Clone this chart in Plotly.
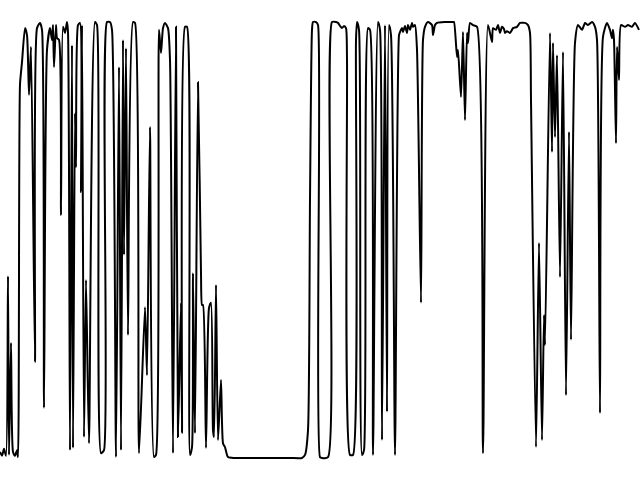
import plotly.graph_objects as go

t = [0, 2, 4, 6, 8, 9, 11, 13, 15, 17, 18,
     20, 22, 25, 27, 29, 31, 35, 37, 40, 42, 44, 47, 50, 52, 53, 54, 56, 57, 59,
     61, 63, 65, 67, 68, 70, 72, 73, 75, 76, 78, 80, 81, 82, 84, 86, 89, 95, 97, 101, 104, 107, 110,
     112, 116, 119, 121, 123, 124, 126, 128, 133, 135, 139,
     145, 147, 150, 154, 156, 159, 161, 163, 165, 168, 170, 173, 176, 178, 181, 182, 185, 187, 190, 192, 193, 195, 198,
     201, 202, 203, 206, 209, 211, 213, 214, 216, 218, 221, 223, 225, 228, 235, 260, 290, 302, 305, 308, 310, 312, 313, 316, 318, 320, 322, 328,
     332, 336, 338, 340, 342, 344, 346, 347, 350, 353, 356, 357, 359, 362, 364, 368, 370, 373, 378, 380, 382, 385, 387, 389, 391, 395, 399,
     400, 402, 403, 405, 407, 408, 410, 412, 413, 415, 417, 421, 423, 425, 428, 432, 433, 435, 437, 445, 453, 454, 457, 458, 461, 463, 465, 467, 468, 470, 473, 477,
     483, 488, 492, 493, 496, 498, 500, 502, 504, 505, 507, 510, 512, 513, 517, 520, 525, 528, 530, 531, 536, 539, 542, 544, 545, 550, 552, 553, 555, 557, 560, 563, 566, 569, 571, 575, 578,
     582, 585, 588, 592, 595, 597, 600, 603, 607, 610, 612, 613, 614, 616, 617, 619, 621, 625, 628, 632, 635, 639]

values = [1.4, 0.5, 2.1, 0.5, 41.7, 0.7, 26.4, 1.4, 0.5, 1.8, 0.2,
          85.6, 90.8, 98.6, 97.0, 83.3, 94.3, 22.0, 98.6, 99.8, 98.2, 11.5, 93.6, 98.6, 95.9, 99.3, 89.7, 99.3, 96.3, 95.9,
          55.7, 98.9, 97.5, 100, 97.7, 1.8, 94.7, 2.3, 79.1, 66.7, 99.3, 99.8, 61.0, 99.3, 4.8, 40.8, 3.4, 100, 99.3, 1.1, 1.8, 100, 100,
          98.2, 0.2, 89.7, 1.8, 95.9, 46.6, 94.0, 28.2, 100, 99.8, 1.1,
          34.6, 19.0, 75.9, 0.2, 0.7, 98.2, 92.9, 98.6, 99.8, 98.6, 91.3, 1.1, 98.9, 4.8, 35.6, 5.7, 98.9, 98.9, 0.7, 2.5, 42.4, 5.7, 86.2,
          42.4, 35.1, 35.1, 2.3, 34.4, 35.6, 6.4, 4.8, 39.7, 4.1, 17.9, 3.4, 2.5, 0.2, 0, 0, 0, 0, 0.7, 6.4, 59.2, 98.2, 100, 100, 99.3, 0.2, 0, 0.2,
          100, 100, 99.8, 99.1, 98.6, 99.1, 98.6, 91.3, 0.7, 0.7, 95.9, 100, 98.2, 0.7, 1.8, 98.6, 98.2, 0.7, 100, 98.2, 4.1, 99.3, 10.6, 99.3, 97.0, 0.7, 97.0,
          97.7, 98.6, 97.7, 99.1, 97.5, 99.3, 98.2, 99.8, 98.9, 99.3, 93.6, 35.6, 95.9, 98.9, 100, 99.3, 97.0, 99.3, 99.8, 100, 100, 100, 92.0, 93.6, 82.8, 97.7, 77.5, 97.5, 95.2, 99.8, 99.3, 98.9,
          1.1, 99.3, 95.4, 98.6, 98.2, 99.3, 97.5, 98.9, 98.4, 97.5, 97.9, 97.5, 98.2, 98.6, 98.9, 99.8, 99.8, 99.3, 97.5, 82.1, 2.5, 49.3, 4.1, 32.8, 25.9, 97.5, 70.2, 95.2, 73.6, 92.4, 41.5, 93.1, 14.4, 74.8, 27.1, 95.2, 99.3,
          98.2, 99.8, 99.3, 100, 98.9, 95.9, 10.3, 96.6, 99.8, 98.2, 96.3, 98.2, 95.9, 72.2, 94.3, 86.7, 99.3, 98.9, 99.3, 98.9, 99.8, 98.2]

fig = go.Figure(go.Scatter(x=t, y=values, mode="lines",
                           line=dict(color="black", width=2, shape="spline", smoothing=0.6),
                           hoverinfo="skip"))
fig.update_layout(width=640, height=480, margin=dict(l=0, r=0, t=0, b=0),
                  paper_bgcolor="white", plot_bgcolor="white", showlegend=False)
fig.update_xaxes(visible=False, range=[0, 640])
fig.update_yaxes(visible=False, range=[-5.05, 105.05])
fig.write_html("out.html")
